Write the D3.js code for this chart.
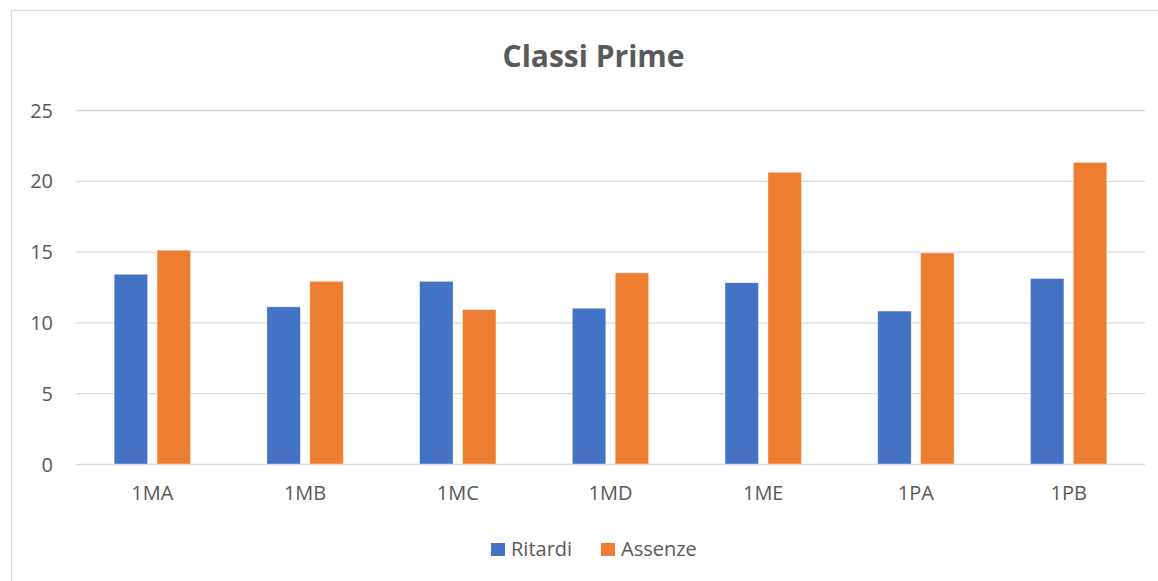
<!DOCTYPE html>
<html>
<head>
<meta charset="utf-8">
<script src="https://cdn.jsdelivr.net/npm/d3@7"></script>
<style>
    body { margin: 0; background: #fff; }
    text { font-family: 'Open Sans', sans-serif; fill: #595959; }
</style>
</head>
<body>
<div id="chartContainer"></div>
<script>
const categories = ['1MA', '1MB', '1MC', '1MD', '1ME', '1PA', '1PB'];
const seriesNames = ['Ritardi', 'Assenze'];
const ritardi = [13.4, 11.1, 12.9, 11.0, 12.8, 10.8, 13.1];
const assenze = [15.1, 12.9, 10.9, 13.5, 20.6, 14.9, 21.3];
const yTicks = [0, 5, 10, 15, 20, 25];
const colors = ['#4472C4', '#ED7D31'];

const svgWidth = 1158;
const svgHeight = 581;
const margin = { top: 110, right: 13, bottom: 117, left: 76 };
const chartWidth = svgWidth - margin.left - margin.right;
const chartHeight = svgHeight - margin.top - margin.bottom;

const svg = d3.select('#chartContainer')
    .append('svg')
    .attr('width', svgWidth)
    .attr('height', svgHeight);

// chart area border
svg.append('rect')
    .attr('x', 11.5)
    .attr('y', 10.5)
    .attr('width', svgWidth + 20)
    .attr('height', svgHeight + 20)
    .attr('fill', 'none')
    .attr('stroke', '#d9d9d9')
    .attr('stroke-width', 1.3);

const rows = categories.map((c, i) => ({ label: c, values: [ritardi[i], assenze[i]] }));

const x0 = d3.scaleBand()
    .domain(categories)
    .range([0, chartWidth])
    .paddingInner(0.5)
    .paddingOuter(0.25);

const x1 = d3.scaleBand()
    .domain(seriesNames)
    .range([0, x0.bandwidth()])
    .paddingInner(0.22)
    .paddingOuter(0);

const yScale = d3.scaleLinear()
    .domain([0, 25])
    .range([chartHeight, 0]);

const chart = svg.append('g')
    .attr('transform', `translate(${margin.left}, ${margin.top})`);

// gridlines
const yAxis = d3.axisLeft(yScale)
    .tickValues(yTicks)
    .tickSize(-chartWidth)
    .tickPadding(23)
    .tickFormat(d3.format('d'));

chart.append('g')
    .attr('class', 'y-axis')
    .call(yAxis)
    .call(g => g.select('.domain').remove())
    .call(g => g.selectAll('line').attr('stroke', '#d9d9d9').attr('stroke-width', 1.3))
    .call(g => g.selectAll('text').style('font-size', '20px').attr('fill', '#595959').attr('dy', '0.35em'));

// bars
const groups = chart.selectAll('.group')
    .data(rows)
    .enter().append('g')
    .attr('class', 'group')
    .attr('transform', d => `translate(${x0(d.label)}, 0)`);

groups.selectAll('rect')
    .data(d => d.values.map((v, i) => ({ key: seriesNames[i], value: v, idx: i })))
    .enter().append('rect')
    .attr('x', d => x1(d.key))
    .attr('y', d => yScale(d.value))
    .attr('width', x1.bandwidth())
    .attr('height', d => chartHeight - yScale(d.value))
    .attr('fill', d => colors[d.idx])
    .attr('stroke', 'rgba(255,255,255,0.5)')
    .attr('stroke-width', 0.75);

// x axis labels
const xAxis = d3.axisBottom(x0).tickSize(0).tickPadding(22);
chart.append('g')
    .attr('class', 'x-axis')
    .attr('transform', `translate(0, ${chartHeight})`)
    .call(xAxis)
    .call(g => g.select('.domain').remove())
    .call(g => g.selectAll('text').style('font-size', '20px').attr('fill', '#595959'));

// title
svg.append('text')
    .attr('x', margin.left + chartWidth / 2 - 17)
    .attr('y', 67)
    .attr('text-anchor', 'middle')
    .style('font-size', '30px')
    .style('font-weight', 'bold')
    .text('Classi Prime');

// legend
const legendItems = [
    { name: 'Ritardi', x: 491 },
    { name: 'Assenze', x: 601 }
];
const legend = svg.append('g').attr('class', 'legend');
legendItems.forEach((item, i) => {
    legend.append('rect')
        .attr('x', item.x)
        .attr('y', 543)
        .attr('width', 14)
        .attr('height', 13)
        .attr('fill', colors[i]);
    legend.append('text')
        .attr('x', item.x + 20)
        .attr('y', 556)
        .style('font-size', '20px')
        .text(item.name);
});
</script>
</body>
</html>
